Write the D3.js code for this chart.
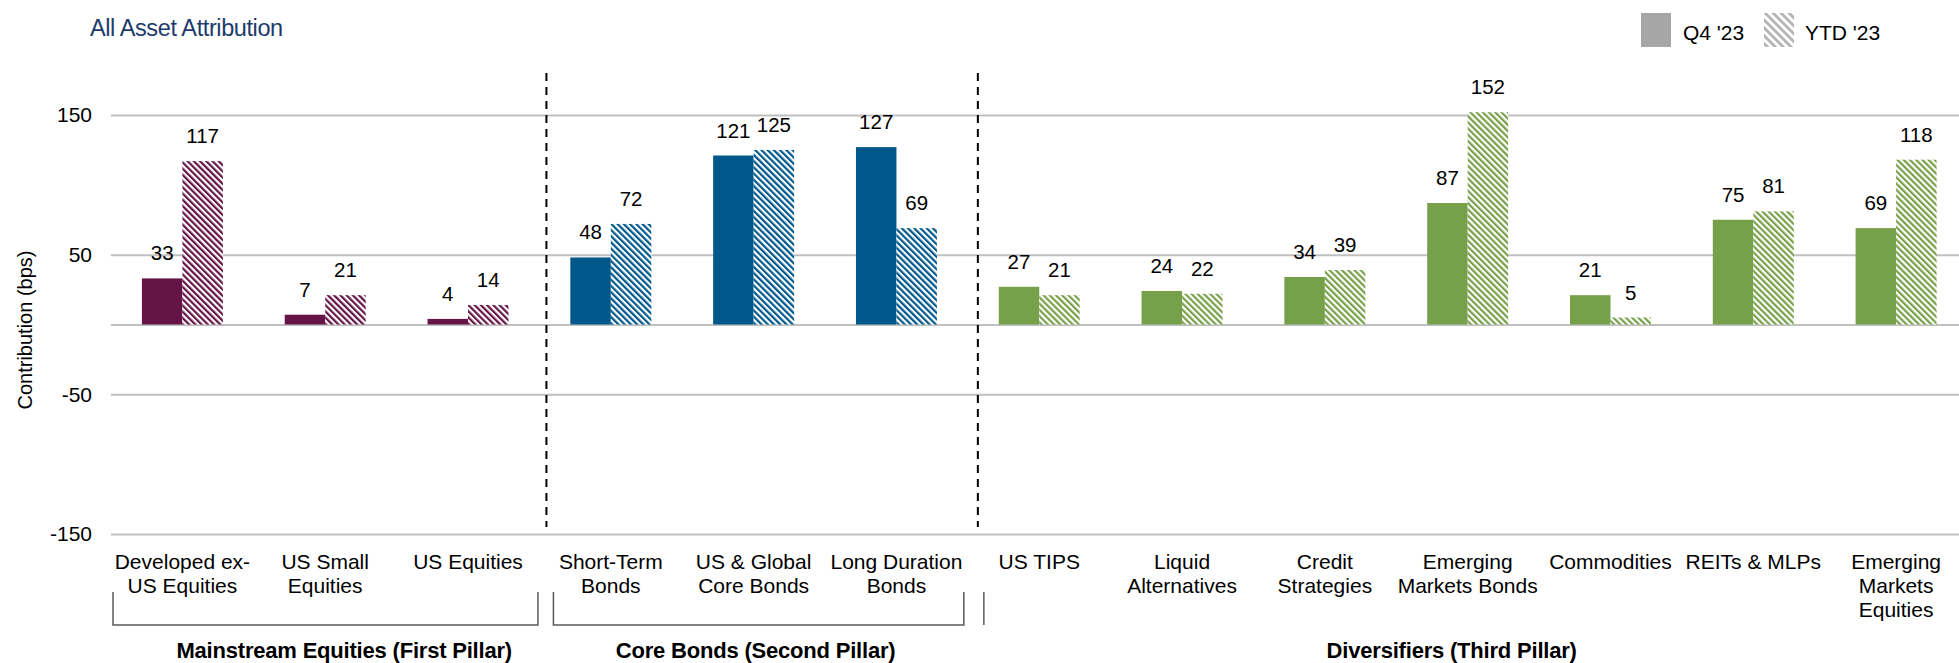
<!DOCTYPE html>
<html><head><meta charset="utf-8">
<script src="https://cdn.jsdelivr.net/npm/d3@7/dist/d3.min.js"></script>
<style>html,body{margin:0;padding:0;background:#fff;overflow:hidden} svg{display:block;font-family:"Liberation Sans",Arial,sans-serif;}</style>
</head><body><svg id="c" width="1959" height="663"></svg>
<script>
// ---------- data ----------
const categories = [
  "Developed ex-|US Equities", "US Small|Equities", "US Equities",
  "Short-Term|Bonds", "US & Global|Core Bonds", "Long Duration|Bonds",
  "US TIPS", "Liquid|Alternatives", "Credit|Strategies", "Emerging|Markets Bonds",
  "Commodities", "REITs & MLPs", "Emerging|Markets|Equities"
];
const q4Values  = [33, 7, 4, 48, 121, 127, 27, 24, 34, 87, 21, 75, 69];
const ytdValues = [117, 21, 14, 72, 125, 69, 21, 22, 39, 152, 5, 81, 118];
const seriesNames = ["Q4 '23", "YTD '23"];
const yTickLabels = [-150, -50, 50, 150];
const gridValues = [-150, -50, 0, 50, 150];
const groupNames = ["Mainstream Equities (First Pillar)", "Core Bonds (Second Pillar)", "Diversifiers (Third Pillar)"];
const groupFirst = [0, 3, 6];
const groupLast  = [2, 5, 12];
const title = "All Asset Attribution";
const yTitle = "Contribution (bps)";

// ---------- layout / style ----------
const W = 1959, H = 663;
const groupColors = ["#641446", "#00578a", "#77a04a"];
const groupLabelShift = [19, 2, -16];
const bracketInsetL = [2, 14, 16];
const bracketInsetR = [1.5, 4, -40];
const svg = d3.select("#c");
const defs = svg.append("defs");

function hatch(id, color, size) {
  const p = defs.append("pattern").attr("id", id)
    .attr("patternUnits", "userSpaceOnUse")
    .attr("width", size).attr("height", size)
    .attr("patternTransform", "rotate(-45)");
  p.append("rect").attr("width", size).attr("height", size).attr("fill", "#fff");
  p.append("rect").attr("width", size / 2).attr("height", size).attr("fill", color);
}
groupColors.forEach((c, i) => hatch("h" + i, c, 4.4));
hatch("hleg", "#b4b4b4", 5.6);

const groupOf = i => groupFirst.findIndex((f, g) => i >= f && i <= groupLast[g]);

const x = d3.scaleBand().domain(d3.range(categories.length))
  .range([111, 1967.5]).paddingInner(0.433).paddingOuter(0.2165);
const step = x.step();
const bandStart = i => x(i) - x.paddingInner() * step / 2;
const xs = d3.scaleBand().domain([0, 1]).range([0, x.bandwidth()]);
const y = d3.scaleLinear().domain([-150, 150]).range([534, 115]);

// gridlines + tick labels
const ax = svg.append("g").attr("transform", "translate(111,0)")
  .call(d3.axisLeft(y).tickValues(gridValues).tickSize(-(W - 111))
    .tickPadding(19).tickFormat(d => yTickLabels.includes(d) ? d : ""));
ax.select(".domain").remove();
ax.selectAll(".tick line").attr("stroke", "#c0c0c0").attr("stroke-width", 2);
ax.selectAll(".tick text").attr("font-size", 21).attr("fill", "#000")
  .attr("font-family", "Liberation Sans, Arial, sans-serif");

// bars
const rows = categories.map((c, i) => ({ i, g: groupOf(i), vals: [q4Values[i], ytdValues[i]] }));
const bars = svg.append("g");
rows.forEach(r => {
  r.vals.forEach((v, s) => {
    bars.append("rect")
      .attr("x", x(r.i) + xs(s)).attr("width", xs.bandwidth())
      .attr("y", y(Math.max(v, 0))).attr("height", Math.abs(y(v) - y(0)))
      .attr("fill", s === 0 ? groupColors[r.g] : `url(#h${r.g})`);
    bars.append("text")
      .attr("x", x(r.i) + xs(s) + xs.bandwidth() / 2)
      .attr("y", y(Math.max(v, 0)) - 18)
      .attr("text-anchor", "middle").attr("font-size", 20.5).attr("fill", "#000")
      .text(v);
  });
});

// dashed separators
[3, 6].forEach((b, k) => {
  const xx = bandStart(b) + (k === 0 ? 7 : 10);
  svg.append("line").attr("x1", xx).attr("x2", xx).attr("y1", 73).attr("y2", 527)
    .attr("stroke", "#000").attr("stroke-width", 2).attr("stroke-dasharray", "8,6");
});

// category labels
rows.forEach(r => {
  const t = svg.append("text").attr("text-anchor", "middle").attr("font-size", 21).attr("fill", "#000");
  categories[r.i].split("|").forEach((line, k) => {
    t.append("tspan").attr("x", x(r.i) + x.bandwidth() / 2).attr("y", 569 + k * 24).text(line);
  });
});

// group brackets and labels
groupNames.forEach((name, g) => {
  const l = bandStart(groupFirst[g]) + bracketInsetL[g];
  const rr = bandStart(groupLast[g] + 1) - bracketInsetR[g];
  svg.append("path").attr("d", `M${l},592V625H${rr}V592`)
    .attr("fill", "none").attr("stroke", "#595959").attr("stroke-width", 1.5);
  const cx = (x(groupFirst[g]) + x(groupLast[g])) / 2 + x.bandwidth() / 2 + groupLabelShift[g];
  svg.append("text").attr("x", cx).attr("y", 658).attr("text-anchor", "middle")
    .attr("font-size", 22).attr("font-weight", "bold").attr("letter-spacing", -0.2)
    .attr("fill", "#000").text(name);
});

// axis title
svg.append("text").attr("transform", "translate(32,330) rotate(-90)")
  .attr("text-anchor", "middle").attr("font-size", 20).attr("fill", "#000").text(yTitle);

// chart title
svg.append("text").attr("x", 90).attr("y", 36).attr("font-size", 23.5)
  .attr("letter-spacing", -0.4).attr("fill", "#1b3a6b").text(title);

// legend
const legX = [1641, 1764];
const legTextX = [1683, 1805];
seriesNames.forEach((n, s) => {
  svg.append("rect").attr("x", legX[s]).attr("y", 13).attr("width", 30).attr("height", 34)
    .attr("fill", s === 0 ? "#a6a6a6" : "url(#hleg)");
  svg.append("text").attr("x", legTextX[s]).attr("y", 40).attr("font-size", 21).attr("fill", "#000").text(n);
});
</script></body></html>
